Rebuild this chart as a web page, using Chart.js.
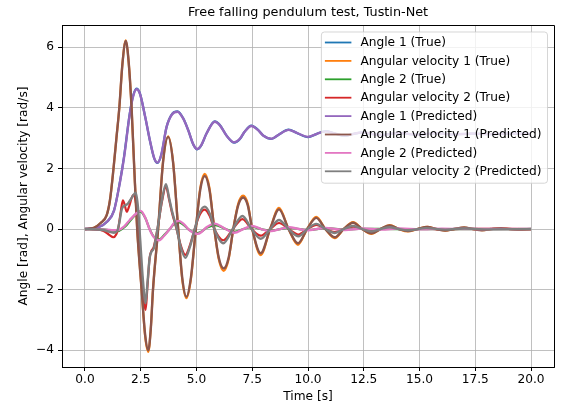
<!DOCTYPE html>
<html>
<head>
<meta charset="utf-8">
<title>Free falling pendulum test, Tustin-Net</title>
<script src="https://cdn.jsdelivr.net/npm/chart.js@4.4.1/dist/chart.umd.min.js"></script>
<style>
  html, body { margin: 0; padding: 0; background: #fff; }
  #chart { display: block; }
</style>
</head>
<body>
<canvas id="chart" width="563" height="408"></canvas>
<script>
// values, [time s, value]
const TITLE = 'Free falling pendulum test, Tustin-Net';
const X_LABEL = 'Time [s]';
const Y_LABEL = 'Angle [rad], Angular velocity [rad/s]';
const X_TICKS = [0, 2.5, 5, 7.5, 10, 12.5, 15, 17.5, 20];
const Y_TICKS = [-4, -2, 0, 2, 4, 6];

const SERIES_NAMES = [
  'Angle 1 (True)',
  'Angular velocity 1 (True)',
  'Angle 2 (True)',
  'Angular velocity 2 (True)',
  'Angle 1 (Predicted)',
  'Angular velocity 1 (Predicted)',
  'Angle 2 (Predicted)',
  'Angular velocity 2 (Predicted)'
];

const angle1True = [[0,0],[0.6,0.06],[1.0,0.25],[1.3,0.61],[1.57,1.57],[1.75,2.38],[2.0,3.77],[2.15,4.37],[2.31,4.63],[2.46,4.48],[2.7,3.7],[2.91,2.92],[3.1,2.34],[3.25,2.18],[3.42,2.44],[3.66,3.37],[3.9,3.79],[4.15,3.88],[4.4,3.66],[4.63,3.26],[4.85,2.8],[5.03,2.63],[5.2,2.74],[5.45,3.15],[5.82,3.55],[6.05,3.43],[6.35,3.08],[6.69,2.85],[6.95,2.97],[7.15,3.2],[7.46,3.41],[7.75,3.28],[8.0,3.08],[8.36,2.97],[8.7,3.12],[9.13,3.28],[9.5,3.17],[10.0,3.03],[10.4,3.14],[10.8,3.23],[11.2,3.15],[11.65,3.07],[12.05,3.14],[12.45,3.19],[12.85,3.14],[13.3,3.10],[13.7,3.14],[14.1,3.17],[14.5,3.14],[14.95,3.11],[15.7,3.16],[16.55,3.12],[17.35,3.15],[18.15,3.13],[19.0,3.15],[20,3.14]];
const angle1Pred = [[0,0],[0.6,0.06],[1.0,0.25],[1.3,0.6],[1.57,1.55],[1.75,2.35],[2.0,3.75],[2.15,4.35],[2.31,4.61],[2.46,4.47],[2.7,3.7],[2.91,2.93],[3.1,2.35],[3.25,2.19],[3.42,2.45],[3.66,3.37],[3.9,3.78],[4.15,3.87],[4.4,3.65],[4.63,3.26],[4.85,2.8],[5.03,2.64],[5.2,2.75],[5.45,3.15],[5.82,3.54],[6.05,3.42],[6.35,3.08],[6.69,2.86],[6.95,2.98],[7.15,3.2],[7.46,3.40],[7.75,3.27],[8.0,3.08],[8.36,2.98],[8.7,3.12],[9.13,3.27],[9.5,3.17],[10.0,3.04],[10.4,3.14],[10.8,3.22],[11.2,3.15],[11.65,3.08],[12.05,3.14],[12.45,3.19],[12.85,3.14],[13.3,3.10],[13.7,3.14],[14.1,3.17],[14.5,3.14],[14.95,3.11],[15.7,3.16],[16.55,3.12],[17.35,3.15],[18.15,3.13],[19.0,3.15],[20,3.14]];

const angVel1True = [[0,0],[0.4,0.04],[0.7,0.2],[0.97,0.45],[1.12,0.95],[1.28,2.0],[1.41,3.0],[1.54,4.0],[1.68,5.45],[1.83,6.22],[1.96,5.5],[2.09,4.0],[2.21,2.0],[2.34,0],[2.54,-2.0],[2.7,-3.55],[2.84,-4.05],[2.95,-3.3],[3.05,-2.0],[3.28,0],[3.5,2.22],[3.73,3.06],[3.95,2.22],[4.18,0],[4.36,-1.65],[4.55,-2.28],[4.75,-1.65],[4.97,0],[5.17,1.36],[5.37,1.82],[5.58,1.36],[5.8,0],[6.0,-1.0],[6.22,-1.38],[6.44,-1.0],[6.65,0],[6.87,0.83],[7.09,1.1],[7.3,0.83],[7.5,0],[7.88,-0.86],[8.3,0],[8.7,0.7],[9.13,0],[9.55,-0.52],[9.96,0],[10.37,0.4],[10.78,0],[11.2,-0.3],[11.6,0],[12.02,0.23],[12.43,0],[12.84,-0.16],[13.25,0],[13.66,0.13],[14.07,0],[14.48,-0.08],[14.9,0],[15.35,0.07],[15.75,0],[16.15,-0.05],[16.55,0],[17.0,0.05],[17.4,0],[17.8,-0.04],[18.2,0],[18.65,0.03],[19.05,0],[19.45,-0.02],[20,0]];
const angVel1Pred = [[0,0],[0.4,0.04],[0.7,0.2],[0.97,0.45],[1.12,0.95],[1.28,2.0],[1.41,3.0],[1.54,4.0],[1.68,5.45],[1.83,6.2],[1.96,5.5],[2.09,4.0],[2.21,2.0],[2.34,0],[2.54,-2.0],[2.7,-3.5],[2.84,-4.0],[2.95,-3.3],[3.05,-2.0],[3.28,0],[3.5,2.2],[3.73,3.04],[3.95,2.2],[4.18,0],[4.36,-1.6],[4.55,-2.23],[4.75,-1.6],[4.97,0],[5.17,1.3],[5.37,1.75],[5.58,1.3],[5.8,0],[6.0,-0.95],[6.22,-1.3],[6.44,-0.95],[6.65,0],[6.87,0.78],[7.09,1.04],[7.3,0.78],[7.5,0],[7.88,-0.8],[8.3,0],[8.7,0.65],[9.13,0],[9.55,-0.47],[9.96,0],[10.37,0.37],[10.78,0],[11.2,-0.27],[11.6,0],[12.02,0.21],[12.43,0],[12.84,-0.14],[13.25,0],[13.66,0.12],[14.07,0],[14.48,-0.07],[14.9,0],[15.35,0.07],[15.75,0],[16.15,-0.05],[16.55,0],[17.0,0.05],[17.4,0],[17.8,-0.04],[18.2,0],[18.65,0.03],[19.05,0],[19.45,-0.02],[20,0]];

const angle2True = [[0,0],[0.8,-0.01],[1.2,-0.05],[1.45,-0.07],[1.65,0.0],[1.85,0.12],[2.05,0.3],[2.3,0.5],[2.48,0.57],[2.7,0.37],[2.91,-0.02],[3.1,-0.26],[3.33,-0.34],[3.55,-0.2],[3.8,0.0],[4.0,0.17],[4.2,0.23],[4.42,0.14],[4.63,0.0],[4.85,-0.1],[5.05,-0.13],[5.25,-0.07],[5.45,0.04],[5.85,0.13],[6.25,0.02],[6.7,-0.09],[7.1,0.0],[7.5,0.07],[7.9,0.0],[8.35,-0.05],[8.75,0.0],[9.15,0.04],[9.6,0.0],[10.0,-0.03],[10.8,0.03],[11.65,-0.02],[12.45,0.01],[14,0],[20,0]];
const angle2Pred = [[0,0],[0.8,-0.01],[1.2,-0.04],[1.5,-0.03],[1.75,0.08],[2.01,0.3],[2.31,0.52],[2.5,0.6],[2.7,0.38],[2.91,-0.03],[3.1,-0.28],[3.33,-0.37],[3.55,-0.22],[3.8,0.0],[4.0,0.2],[4.2,0.27],[4.42,0.17],[4.63,0.0],[4.85,-0.12],[5.05,-0.16],[5.25,-0.08],[5.45,0.06],[5.82,0.18],[6.25,0.02],[6.7,-0.12],[7.1,0.0],[7.5,0.1],[7.9,0.0],[8.35,-0.07],[8.75,0.0],[9.15,0.06],[9.6,0.0],[10.0,-0.04],[10.4,0.0],[10.8,0.04],[11.2,0.0],[11.65,-0.03],[12.45,0.02],[13.3,-0.02],[14.1,0.02],[15,-0.01],[16,0.01],[17,0],[20,0]];

const angVel2True = [[0,0],[0.8,-0.05],[1.1,-0.2],[1.27,-0.27],[1.4,-0.18],[1.5,0.05],[1.6,0.55],[1.7,0.95],[1.78,0.8],[1.87,0.57],[1.98,0.75],[2.16,1.12],[2.3,0.8],[2.42,-0.2],[2.55,-1.5],[2.72,-2.67],[2.8,-1.9],[2.9,-0.95],[2.98,-0.72],[3.08,-0.6],[3.25,0.0],[3.45,0.9],[3.63,1.4],[3.78,0.95],[3.9,0.55],[4.1,0.02],[4.3,-0.55],[4.5,-0.85],[4.7,-0.55],[4.92,0],[5.15,0.48],[5.37,0.64],[5.6,0.42],[5.8,0],[6.2,-0.37],[6.63,0],[7.06,0.33],[7.47,0],[7.88,-0.22],[8.3,0],[8.7,0.2],[9.13,0],[9.57,-0.18],[9.97,0],[10.37,0.14],[10.78,0],[11.2,-0.1],[11.6,0],[12.02,0.08],[12.43,0],[12.84,-0.06],[13.25,0],[13.66,0.05],[14.48,-0.03],[15.3,0.02],[16.15,-0.02],[17.0,0.01],[20,0]];
const angVel2Pred = [[0,0],[0.8,-0.03],[1.1,-0.09],[1.3,-0.12],[1.45,-0.06],[1.55,0.25],[1.65,0.66],[1.8,0.78],[1.9,0.82],[2.05,0.98],[2.28,1.2],[2.38,0.7],[2.48,-0.4],[2.6,-1.7],[2.72,-2.45],[2.8,-1.8],[2.9,-0.95],[2.98,-0.75],[3.08,-0.65],[3.25,0.0],[3.45,0.95],[3.63,1.48],[3.78,1.0],[3.9,0.6],[4.1,0.05],[4.3,-0.6],[4.5,-0.95],[4.7,-0.6],[4.92,0],[5.15,0.55],[5.37,0.74],[5.6,0.5],[5.8,0],[6.2,-0.47],[6.63,0],[7.06,0.43],[7.47,0],[7.88,-0.32],[8.3,0],[8.7,0.3],[9.13,0],[9.57,-0.24],[9.97,0],[10.37,0.17],[10.78,0],[11.2,-0.13],[11.6,0],[12.02,0.1],[12.43,0],[12.84,-0.08],[13.25,0],[13.66,0.06],[14.07,0],[14.48,-0.04],[15.3,0.03],[16.15,-0.02],[17.0,0.02],[18.0,-0.01],[20,0]];

const SERIES = [angle1True, angVel1True, angle2True, angVel2True, angle1Pred, angVel1Pred, angle2Pred, angVel2Pred];

// matplotlib tab10 cycle
const COLORS = ['#1f77b4', '#ff7f0e', '#2ca02c', '#d62728', '#9467bd', '#8c564b', '#e377c2', '#7f7f7f'];

const FONT = '"DejaVu Sans", "Liberation Sans", sans-serif';
const fmtY = (v) => (v < 0 ? '\u2212' + Math.abs(v) : String(v));

// top + right spines, and the title
const framePlugin = {
  id: 'frame',
  afterDraw(chart) {
    const { ctx, chartArea: a } = chart;
    ctx.save();
    ctx.strokeStyle = '#000';
    ctx.lineWidth = 1;
    ctx.beginPath();
    ctx.moveTo(a.left, a.top + 0.5);
    ctx.lineTo(a.right + 0.5, a.top + 0.5);
    ctx.lineTo(a.right + 0.5, a.bottom);
    ctx.stroke();
    ctx.fillStyle = '#000';
    ctx.font = '12.8px ' + FONT;
    ctx.textAlign = 'center';
    ctx.textBaseline = 'middle';
    ctx.fillText(TITLE, (a.left + a.right) / 2, 13);
    ctx.restore();
  }
};

// matplotlib style legend inside the axes, upper right
const legendPlugin = {
  id: 'mplLegend',
  afterDatasetsDraw(chart) {
    const { ctx, chartArea: a } = chart;
    ctx.save();
    ctx.font = '12.2px ' + FONT;
    const textW = Math.max(...SERIES_NAMES.map(n => ctx.measureText(n).width));
    const rowH = 18.4;
    const boxW = textW + 45;
    const boxH = rowH * SERIES_NAMES.length + 4;
    const boxR = a.right - 6.5;
    const boxT = a.top + 7;
    const boxL = boxR - boxW;
    const r = 3;

    ctx.beginPath();
    ctx.moveTo(boxL + r, boxT);
    ctx.arcTo(boxR, boxT, boxR, boxT + boxH, r);
    ctx.arcTo(boxR, boxT + boxH, boxL, boxT + boxH, r);
    ctx.arcTo(boxL, boxT + boxH, boxL, boxT, r);
    ctx.arcTo(boxL, boxT, boxR, boxT, r);
    ctx.closePath();
    ctx.fillStyle = 'rgba(255,255,255,0.8)';
    ctx.fill();
    ctx.strokeStyle = 'rgba(204,204,204,0.8)';
    ctx.lineWidth = 1;
    ctx.stroke();

    ctx.textAlign = 'left';
    ctx.textBaseline = 'middle';
    SERIES_NAMES.forEach((name, i) => {
      const y = boxT + 10.5 + rowH * i;
      ctx.strokeStyle = COLORS[i];
      ctx.lineWidth = 1.8;
      ctx.beginPath();
      ctx.moveTo(boxL + 3.5, y);
      ctx.lineTo(boxL + 30, y);
      ctx.stroke();
      ctx.fillStyle = '#000';
      ctx.fillText(name, boxL + 39, y + 0.5);
    });
    ctx.restore();
  }
};

const datasets = SERIES.map((pts, i) => ({
  label: SERIES_NAMES[i],
  data: pts.map(([x, y]) => ({ x, y })),
  borderColor: COLORS[i],
  backgroundColor: COLORS[i],
  borderWidth: i < 4 ? 2.2 : 2.4,
  pointRadius: 0,
  fill: false,
  cubicInterpolationMode: 'monotone',
  // later series sit on top, like matplotlib
  order: SERIES.length - 1 - i
}));

const axisCommon = {
  type: 'linear',
  grid: {
    color: '#b0b0b0',
    lineWidth: 0.8,
    drawTicks: true,
    tickLength: 4,
    tickColor: '#000',
    tickWidth: 1
  },
  border: { display: true, color: '#000', width: 1 },
  ticks: { color: '#000', font: { size: 12.2, family: FONT }, autoSkip: false, maxRotation: 0 }
};

Chart.defaults.font.family = FONT;
Chart.defaults.color = '#000';

new Chart(document.getElementById('chart').getContext('2d'), {
  type: 'line',
  data: { datasets },
  options: {
    responsive: false,
    animation: false,
    layout: { padding: { top: 25, right: 9, left: 0, bottom: 0 } },
    plugins: {
      legend: { display: false },
      title: { display: false },
      tooltip: { enabled: false }
    },
    scales: {
      x: {
        ...axisCommon,
        min: -1.03,
        max: 21.03,
        afterBuildTicks: (s) => { s.ticks = X_TICKS.map(v => ({ value: v })); },
        afterFit: (s) => { s.height = 41; },
        ticks: { ...axisCommon.ticks, padding: 2, callback: (v) => Number(v).toFixed(1) },
        title: { display: true, text: X_LABEL, color: '#000', font: { size: 12.2, family: FONT }, padding: { top: 0, bottom: 4 } }
      },
      y: {
        ...axisCommon,
        min: -4.55,
        max: 6.73,
        afterBuildTicks: (s) => { s.ticks = Y_TICKS.map(v => ({ value: v })); },
        afterFit: (s) => { s.width = 62; },
        ticks: { ...axisCommon.ticks, padding: 4, callback: (v) => fmtY(v) },
        title: { display: true, text: Y_LABEL, color: '#000', font: { size: 12.2, family: FONT }, padding: { top: 17, bottom: 0 } }
      }
    }
  },
  plugins: [framePlugin, legendPlugin]
});
</script>
</body>
</html>
